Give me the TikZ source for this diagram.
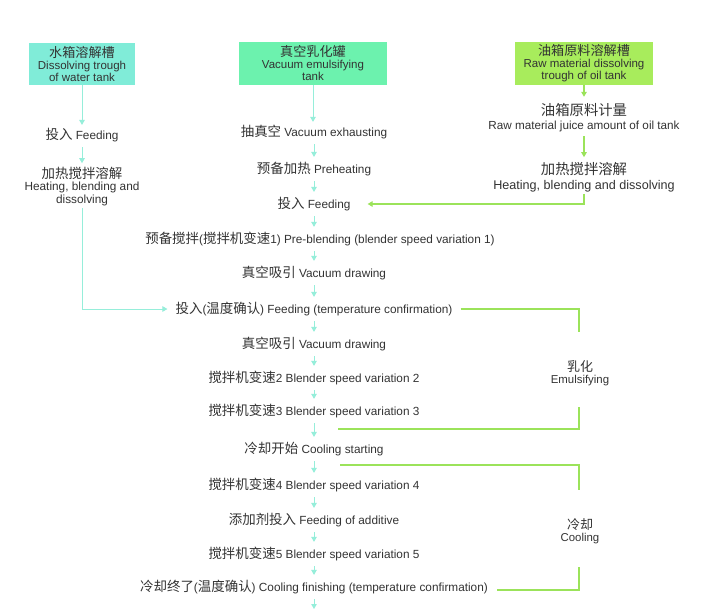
\documentclass[tikz,border=0pt]{standalone}
\usepackage{fontspec}
\setmainfont{Liberation Sans}
\newfontfamily\cjkfont[Scale=1.14]{Noto Sans CJK SC}
\newcommand{\zh}[1]{{\cjkfont #1}}
\usetikzlibrary{arrows.meta}
\definecolor{txt}{HTML}{333333}
\definecolor{aquabox}{HTML}{80ECD8}
\definecolor{greenbox}{HTML}{6CF2AE}
\definecolor{limebox}{HTML}{A8EC5C}
\definecolor{cyanl}{HTML}{96EEDA}
\definecolor{greenl}{HTML}{9BE35A}
\tikzset{
  hdr/.style={rectangle, align=center, inner sep=0pt, text=txt, font=\fontsize{11.5}{12}\selectfont},
  stp/.style={align=center, inner sep=2pt, text=txt, font=\fontsize{11.8}{12.2}\selectfont},
  stpr/.style={align=center, inner sep=2pt, text=txt, font=\fontsize{12.6}{14.5}\selectfont},
  lbl/.style={align=center, inner sep=1pt, text=txt, font=\fontsize{11.4}{12}\selectfont},
  cyarr/.style={draw=cyanl, line width=0.9pt, -{Triangle[length=5pt,width=5.5pt]}},
  grarr/.style={draw=greenl, line width=1.2pt, -{Triangle[length=5pt,width=5.5pt]}},
  grline/.style={draw=greenl, line width=1.2pt}
}
\begin{document}
\begin{tikzpicture}[x=1pt,y=-1pt]
\useasboundingbox (0,0) rectangle (702,611);
\fill[white] (0,0) rectangle (702,611);

% header boxes
\node[hdr, fill=aquabox, minimum width=106pt, minimum height=42pt] (wbox) at (82,64) {\zh{水箱溶解槽}\\Dissolving trough\\of water tank};
\node[hdr, fill=greenbox, minimum width=148pt, minimum height=43pt] (vbox) at (313,63.5) {\zh{真空乳化罐}\\Vacuum emulsifying\\tank};
\node[hdr, fill=limebox, minimum width=138pt, minimum height=43pt] (obox) at (584,63.5) {\zh{油箱原料溶解槽}\\Raw material dissolving\\trough of oil tank};

% left column
\node[stp] (wfeed) at (82,135) {\zh{投入} Feeding};
\node[stp] (wheat) at (82,186.5) {\zh{加热搅拌溶解}\\Heating, blending and\\dissolving};

% right column
\node[stpr] (rmeas) at (584,117.5) {\zh{油箱原料计量}\\{\fontsize{11.7}{14.5}\selectfont Raw material juice amount of oil tank}};
\node[stpr] (rheat) at (584,177) {\zh{加热搅拌溶解}\\Heating, blending and dissolving};

% middle column
\node[stp] (m1) at (314,132) {\zh{抽真空} Vacuum exhausting};
\node[stp] (m2) at (314,169) {\zh{预备加热} Preheating};
\node[stp] (m3) at (314,204) {\zh{投入} Feeding};
\node[stp] (m4) at (320,239) {\zh{预备搅拌}(\zh{搅拌机变速}1) Pre-blending (blender speed variation 1)};
\node[stp] (m5) at (314,273) {\zh{真空吸引} Vacuum drawing};
\node[stp] (m6) at (314,309) {\zh{投入}(\zh{温度确认}) Feeding (temperature confirmation)};
\node[stp] (m7) at (314,344) {\zh{真空吸引} Vacuum drawing};
\node[stp] (m8) at (314,378) {\zh{搅拌机变速}2 Blender speed variation 2};
\node[stp] (m9) at (314,411) {\zh{搅拌机变速}3 Blender speed variation 3};
\node[stp] (m10) at (314,449) {\zh{冷却开始} Cooling starting};
\node[stp] (m11) at (314,485) {\zh{搅拌机变速}4 Blender speed variation 4};
\node[stp] (m12) at (314,520) {\zh{添加剂投入} Feeding of additive};
\node[stp] (m13) at (314,554) {\zh{搅拌机变速}5 Blender speed variation 5};
\node[stp] (m14) at (314,587) {\zh{冷却终了}(\zh{温度确认}) Cooling finishing (temperature confirmation)};

% bracket labels
\node[lbl] (emu) at (580,373) {\zh{乳化}\\Emulsifying};
\node[lbl] (cool) at (580,531) {\zh{冷却}\\Cooling};

% cyan arrows
\draw[cyarr, shorten >=1pt] (wbox.south) -- (wfeed.north);
\draw[cyarr, shorten <=3pt, shorten >=2pt] (wfeed.south) -- (wheat.north);
\draw[cyarr, shorten >=1pt] (vbox.south) -- (vbox.south |- m1.north);
\foreach \a/\b in {m1/m2,m2/m3,m5/m6,m6/m7,m7/m8,m8/m9,m9/m10,m10/m11,m11/m12,m12/m13,m13/m14}
  \draw[cyarr, shorten <=3pt, shorten >=3pt] (\a.south) -- (\b.north);
\draw[cyarr, shorten <=3pt, shorten >=3pt] (m3.south) -- (m3.south |- m4.north);
\draw[cyarr, shorten <=3pt, shorten >=3pt] (m4.south -| m5.south) -- (m5.north);
\coordinate (endpt) at (314,609);
\draw[cyarr, shorten <=3pt] (m14.south) -- (endpt);
\draw[cyarr, shorten >=6pt] (wheat.south) -- (wheat.south |- m6.west) -- (m6.west);

% green arrows
\draw[grarr, shorten >=4pt] (obox.south) -- (rmeas.north);
\draw[grarr, shorten <=2pt, shorten >=3pt] (rmeas.south) -- (rheat.north);
\draw[grarr, shorten >=15pt] (rheat.south) -- (rheat.south |- m3.east) -- (m3.east);

% emulsifying bracket
\coordinate (e1) at (579,309);
\coordinate (e2) at (579,332);
\coordinate (e3) at (579,407);
\coordinate (e4) at (579,429);
\coordinate (e5) at (338,429);
\draw[grline, shorten <=6pt] (m6.east) -- (e1) -- (e2);
\draw[grline] (e3) -- (e4) -- (e5);

% cooling bracket
\coordinate (c0) at (340,465);
\coordinate (c1) at (579,465);
\coordinate (c2) at (579,490);
\coordinate (c3) at (579,567);
\coordinate (c4) at (579,590);
\draw[grline] (c0) -- (c1) -- (c2);
\draw[grline, shorten >=7pt] (c3) -- (c4) -- (c4 -| m14.east);
\end{tikzpicture}
\end{document}
